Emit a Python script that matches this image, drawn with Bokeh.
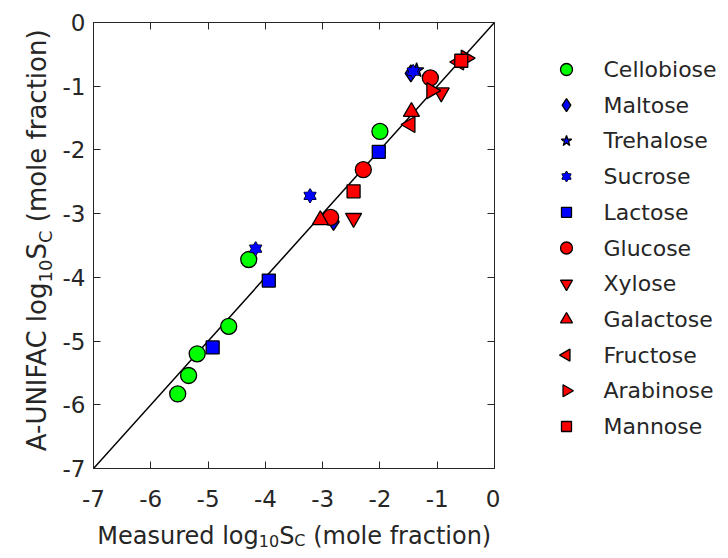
import math
from bokeh.plotting import figure
from bokeh.models import Label, LinearAxis, Range1d, FixedTicker
from bokeh.layouts import row, column
from bokeh.embed import file_html
from bokeh.resources import INLINE

# ---------------- data ----------------
tick_vals = [-7, -6, -5, -4, -3, -2, -1, 0]
tick_text = ["-7", "-6", "-5", "-4", "-3", "-2", "-1", "0"]
diag_x = [-7, 0]
diag_y = [-7, 0]

cellobiose_x = [-5.53, -5.34, -5.19, -4.64, -4.29, -2.00]
cellobiose_y = [-5.83, -5.54, -5.20, -4.77, -3.72, -1.71]
maltose_x = [-2.81, -1.46]
maltose_y = [-3.13, -0.80]
trehalose_x = [-1.36]
trehalose_y = [-0.75]
sucrose_x = [-4.17, -3.22, -1.42]
sucrose_y = [-3.55, -2.72, -0.77]
lactose_x = [-4.92, -3.94, -2.02]
lactose_y = [-5.10, -4.05, -2.03]
glucose_x = [-2.86, -2.29, -1.12]
glucose_y = [-3.06, -2.31, -0.87]
xylose_x = [-2.46, -0.93]
xylose_y = [-3.07, -1.10]
galactose_x = [-3.04, -1.45]
galactose_y = [-3.10, -1.40]
fructose_x = [-1.47, -0.62]
fructose_y = [-1.60, -0.62]
arabinose_x = [-1.10, -0.50]
arabinose_y = [-1.07, -0.56]
mannose_x = [-2.46, -0.58]
mannose_y = [-2.65, -0.60]

legend_names = ["Cellobiose", "Maltose", "Trehalose", "Sucrose", "Lactose", "Glucose",
                "Xylose", "Galactose", "Fructose", "Arabinose", "Mannose"]

# ---------------- style ----------------
FONT = "DejaVu Sans"
TXT = "#262626"
FS = 23
XL_FS, XL_SUB = 24, 16
YL_FS, YL_SUB = 26, 18
GREEN, BLUE, RED = "#00ff00", "#0000ff", "#ff0000"
TOTAL_W, TOTAL_H = 720, 550

YL_W = 57                # width of the y-label strip
M_LEFT, M_RIGHT, M_TOP, M_BOTTOM = 36, 6, 22, 52
FRAME_W, FRAME_H = 401, 446
MAIN_W = M_LEFT + FRAME_W + M_RIGHT
MAIN_H = M_TOP + FRAME_H + M_BOTTOM
XL_H = TOTAL_H - MAIN_H
LG_W = TOTAL_W - YL_W - MAIN_W

# ---------------- main plot ----------------
p = figure(width=MAIN_W, height=MAIN_H, output_backend="svg", toolbar_location=None,
           x_range=Range1d(-7, 0), y_range=Range1d(-7, 0),
           min_border_left=M_LEFT, min_border_right=M_RIGHT,
           min_border_top=M_TOP, min_border_bottom=M_BOTTOM)
p.grid.visible = False
p.outline_line_color = TXT
p.outline_line_width = 1

overrides = {v: t for v, t in zip(tick_vals, tick_text)}
for ax in (p.xaxis[0], p.yaxis[0]):
    ax.ticker = FixedTicker(ticks=tick_vals)
    ax.major_label_overrides = overrides
    ax.major_tick_in = 7
    ax.major_tick_out = 0
    ax.minor_tick_in = 0
    ax.minor_tick_out = 0
    ax.axis_line_color = TXT
    ax.major_tick_line_color = TXT
    ax.major_label_text_font = FONT
    ax.major_label_text_font_size = f"{FS}px"
    ax.major_label_text_color = TXT
p.xaxis[0].major_label_standoff = 21
p.yaxis[0].major_label_standoff = 8

for side in ("above", "right"):
    ax = LinearAxis(ticker=FixedTicker(ticks=tick_vals), major_tick_in=7, major_tick_out=0,
                    minor_tick_in=0, minor_tick_out=0, major_label_text_alpha=0,
                    major_label_text_font_size="1px", major_label_overrides=overrides,
                    major_label_standoff=0, axis_line_color=TXT, major_tick_line_color=TXT)
    p.add_layout(ax, side)

p.line(diag_x, diag_y, line_color="black", line_width=1.5)


def sc(fig, x, y, marker, size, color, angle=0.0, line=True):
    return fig.scatter(x, y, marker=marker, size=size, angle=angle, fill_color=color,
                       line_color="black" if line else None, line_width=1.3)


def hexagram(fig, x, y, size, color):
    sc(fig, x, y, "triangle", size, color)
    sc(fig, x, y, "inverted_triangle", size, color)
    sc(fig, x, y, "triangle", size, color, line=False)
    sc(fig, x, y, "inverted_triangle", size, color, line=False)


sc(p, cellobiose_x, cellobiose_y, "circle", 16, GREEN)
sc(p, maltose_x, maltose_y, "diamond", 17, BLUE)
sc(p, trehalose_x, trehalose_y, "star", 15, BLUE)
hexagram(p, sucrose_x, sucrose_y, 12, BLUE)
sc(p, lactose_x, lactose_y, "square", 13, BLUE)
sc(p, glucose_x, glucose_y, "circle", 16, RED)
sc(p, xylose_x, xylose_y, "inverted_triangle", 16, RED)
sc(p, galactose_x, galactose_y, "triangle", 16, RED)
sc(p, fructose_x, fructose_y, "triangle", 16, RED, angle=math.pi / 2)
sc(p, arabinose_x, arabinose_y, "triangle", 16, RED, angle=-math.pi / 2)
sc(p, mannose_x, mannose_y, "square", 13, RED)


# ---------------- helper for text strips (no axes at all) ----------------
def strip(w, h, xr, left=0, right=0):
    f = figure(width=w, height=h, output_backend="svg", toolbar_location=None,
               x_axis_location=None, y_axis_location=None,
               x_range=Range1d(0, xr), y_range=Range1d(0, h),
               min_border=0, min_border_left=left, min_border_right=right,
               min_border_top=0, min_border_bottom=0)
    f.grid.visible = False
    f.outline_line_color = None
    return f


DV = {'A': 684, '-': 361, 'U': 732, 'N': 748, 'I': 295, 'F': 575, 'C': 698, ' ': 318,
      'l': 278, 'o': 612, 'g': 635, 'M': 863, 'e': 615, 'a': 613, 's': 521, 'u': 634,
      'r': 411, 'd': 635, '1': 636, '0': 636, 'S': 635, '(': 390, 'm': 974, 'f': 352,
      'c': 550, 't': 392, 'i': 278, 'n': 634, ')': 390}


def tw(s, size):
    return sum(DV.get(ch, 600) for ch in s) * size / 1000.0


def label_layout(prefix, fs, sub, center):
    """Return (text, size, along-position, align, is_sub) anchored on the 'S'."""
    first = prefix + " log"
    rest = "(mole fraction)"
    total = tw(first, fs) + tw("10", sub) + tw("S", fs) + tw("C", sub) + tw(" ", fs) + tw(rest, fs)
    s_pos = center - total / 2 + tw(first, fs) + tw("10", sub)
    return [
        (first, fs, s_pos - tw("10", sub), "right", 0),
        ("10", sub, s_pos - tw("10", sub), "left", 1),
        ("S", fs, s_pos, "left", 0),
        ("C", sub, s_pos + tw("S", fs), "left", 1),
        (rest, fs, s_pos + tw("S", fs) + tw("C", sub) + tw(" ", fs), "left", 0),
    ]


# x label strip: its frame lines up with the main frame (pixel units from frame left)
xl = strip(MAIN_W, XL_H, FRAME_W, left=M_LEFT, right=M_RIGHT)
x_center = FRAME_W / 2
X_MAIN_Y, X_SUB_Y = XL_H - 15, XL_H - 20
for t, s, pos, align, sub in label_layout("Measured", XL_FS, XL_SUB, x_center):
    xl.add_layout(Label(x=pos, y=X_SUB_Y if sub else X_MAIN_Y, text=t, text_font=FONT,
                        text_font_size=f"{s}px", text_color=TXT, text_align=align,
                        text_baseline="middle"))

# y label strip (rotated)
yl = strip(YL_W, TOTAL_H, YL_W)
y_center = TOTAL_H - 241.5
Y_MAIN_X, Y_SUB_X = 36.5, 45
for t, s, pos, align, sub in label_layout("A-UNIFAC", YL_FS, YL_SUB, y_center):
    yl.add_layout(Label(x=Y_SUB_X if sub else Y_MAIN_X, y=pos, angle=math.pi / 2, text=t,
                        text_font=FONT, text_font_size=f"{s}px", text_color=TXT,
                        text_align=align, text_baseline="middle"))

# legend strip
lg = strip(LG_W, TOTAL_H, LG_W)
LG_X0 = 566 - (YL_W + MAIN_W)
LG_TXT_X = 603 - (YL_W + MAIN_W)
LG_Y0 = TOTAL_H - 69
LG_STEP = 35.7
ly = [LG_Y0 - i * LG_STEP for i in range(len(legend_names))]
specs = [("circle", 12, GREEN, 0.0), ("diamond", 13, BLUE, 0.0), ("star", 11, BLUE, 0.0),
         ("hexagram", 9, BLUE, 0.0), ("square", 10, BLUE, 0.0), ("circle", 12, RED, 0.0),
         ("inverted_triangle", 12, RED, 0.0), ("triangle", 12, RED, 0.0),
         ("triangle", 12, RED, math.pi / 2), ("triangle", 12, RED, -math.pi / 2),
         ("square", 10, RED, 0.0)]
for (mk, sz, col, ang), yy, name in zip(specs, ly, legend_names):
    if mk == "hexagram":
        hexagram(lg, [LG_X0], [yy], sz, col)
    else:
        sc(lg, [LG_X0], [yy], mk, sz, col, angle=ang)
    lg.add_layout(Label(x=LG_TXT_X, y=yy, text=name, text_font=FONT, text_font_size="22px",
                        text_color=TXT, text_align="left", text_baseline="middle"))

layout = row(yl, column(p, xl, spacing=0), lg, spacing=0)
open("out.html", "w").write(file_html(layout, INLINE, title="plot"))
